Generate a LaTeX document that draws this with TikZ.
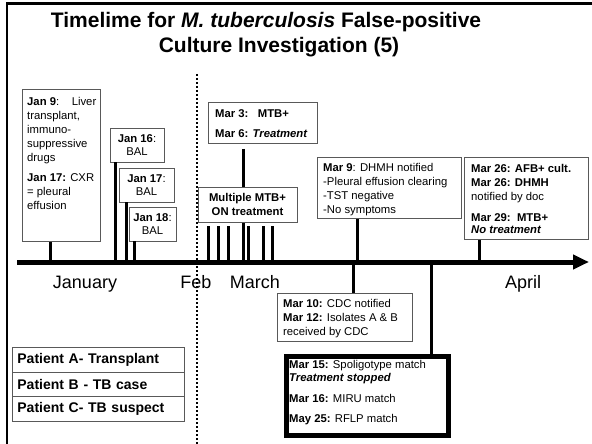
\documentclass[tikz,border=0pt]{standalone}
\usepackage{fontspec}
\setmainfont{Liberation Sans}
\usetikzlibrary{arrows.meta,calc}
\begin{document}
\begin{tikzpicture}[x=1pt,y=-1pt,
  box/.style={draw=black!65, line width=0.8pt, fill=white, inner sep=0pt},
  txt/.style={font=\fontsize{11.3}{14}\selectfont, inner sep=0pt, align=left, anchor=north west},
  bal/.style={box, align=center, font=\fontsize{11.3}{13}\selectfont, minimum height=34pt},
  tick/.style={line width=3pt},
  month/.style={font=\fontsize{18}{20}\selectfont, anchor=base, inner sep=0pt},
  ttl/.style={font=\bfseries\fontsize{21}{24}\selectfont, anchor=base, inner sep=0pt},
  pbox/.style={box, anchor=north west, minimum width=172pt, minimum height=24.5pt, inner xsep=5pt, text width=162pt, align=left, font=\bfseries\fontsize{14}{16}\selectfont}]
\useasboundingbox (0,0) rectangle (592,444);
% frame
\draw[line width=2.5pt] (7,444) -- (7,3.5) -- (592,3.5);
% dotted Feb line
\coordinate (d0) at (197,74);
\coordinate (d1) at (197,444);
\draw[line width=2pt, dash pattern=on 2pt off 2pt] (d0) -- (d1);
% title
\node[ttl] (t1) at (266,28) {Timelime for \textit{M. tuberculosis} False-positive};
\node[ttl] (t2) at (279,53) {Culture Investigation (5)};
% axis coordinates
\coordinate (ax0) at (17,262);
\coordinate (ax1) at (589,262);
\foreach \n/\x in {t9/50, t16/115, t17/126, t18/134, m1/208, m2/218, m3/228, m4/243, m5/248, m6/263, m7/272, t9m/357, t26/479, t10/353, t15/431}
  \coordinate (\n) at (\x,262);
% boxes above axis
\node[box, anchor=north west, minimum width=78pt, minimum height=152pt] (jan9) at (22,89) {};
\node[txt] (jan9t) at (27,97) {\textbf{Jan 9}:\ \ \ \ Liver\\transplant,\\immuno-\\suppressive\\drugs\\[6pt]\textbf{Jan 17:} CXR\\= pleural\\effusion};
\node[bal, minimum width=54pt] (jan16) at (137,145) {\textbf{Jan 16}:\\BAL};
\node[bal, minimum width=55pt] (jan17) at (146.5,185) {\textbf{Jan 17}:\\BAL};
\node[bal, minimum width=47pt] (jan18) at (152.5,224) {\textbf{Jan 18}:\\BAL};
% connectors
\draw[tick] (jan9.south -| t9) -- (t9);
\draw[tick] (jan16.south -| t16) -- (t16);
\draw[tick] (jan17.south -| t17) -- (t17);
\draw[tick] (jan18.south -| t18) -- (t18);
\node[box, anchor=north west, minimum width=109pt, minimum height=41pt] (mar3) at (208,102) {};
\node[txt, font=\bfseries\fontsize{11.3}{14}\selectfont] (mar3t) at (215,109) {Mar 3:\ \ \ MTB+\\[6pt]Mar 6: \textit{Treatment}};
\draw[tick] ($(mar3.south -| m4)+(0,5)$) -- (m4);
\node[box, minimum width=99pt, minimum height=35pt, align=center, font=\bfseries\fontsize{11.3}{14}\selectfont] (multi) at (247.5,204.5) {Multiple MTB+\\ON treatment};
\foreach \m in {m1,m2,m3,m5,m6,m7}
  \draw[tick] ($(multi.south -| \m)+(0,4)$) -- (\m);
\node[box, anchor=north west, minimum width=144pt, minimum height=61pt] (mar9) at (317,157) {};
\node[txt] (mar9t) at (323,163) {\textbf{Mar 9}: DHMH notified\\-Pleural effusion clearing\\-TST negative\\-No symptoms};
\draw[tick] (mar9.south -| t9m) -- (t9m);
\node[box, anchor=north west, minimum width=124pt, minimum height=82pt] (mar26) at (464,157) {};
\node[txt] (mar26t) at (471,164) {\textbf{Mar 26: AFB+ cult.}\\\textbf{Mar 26: DHMH}\\notified by doc\\[7pt]\textbf{Mar 29:\ \ MTB+}\\[-2pt]\textbf{\textit{No treatment}}};
\draw[tick] (mar26.south -| t26) -- (t26);
% axis
\draw[line width=5pt, -{Triangle[length=16pt,width=14pt]}] (ax0) -- (ax1);
% months
\node[month] (jan) at (85,288) {January};
\node[month] (feb) at (196,288) {Feb};
\node[month] (mar) at (255,288) {March};
\node[month] (apr) at (523,288) {April};
% boxes below axis
\node[box, anchor=north west, minimum width=135pt, minimum height=48pt] (mar10) at (277,293) {};
\node[txt] (mar10t) at (283,299) {\textbf{Mar 10:} CDC notified\\\textbf{Mar 12:} Isolates A \& B\\received by CDC};
\draw[tick] (t10) -- (t10 |- mar10.north);
\node[draw, line width=5pt, fill=white, anchor=north west, minimum width=162pt, minimum height=79pt, inner sep=0pt] (res) at (283.5,353.5) {};
\node[txt] (rest) at (289,360) {\textbf{Mar 15:} Spoligotype match\\[-1pt]\textbf{\textit{Treatment stopped}}\\[7pt]\textbf{Mar 16:} MIRU match\\[6pt]\textbf{May 25:} RFLP match};
\draw[tick] (t15) -- (t15 |- res.north);
% patients
\node[pbox] (pa) at (12,347) {Patient A- Transplant};
\node[pbox] (pb) at (12,371.5) {Patient B - TB case};
\node[pbox] (pc) at (12,396) {Patient C- TB suspect};
\end{tikzpicture}
\end{document}
